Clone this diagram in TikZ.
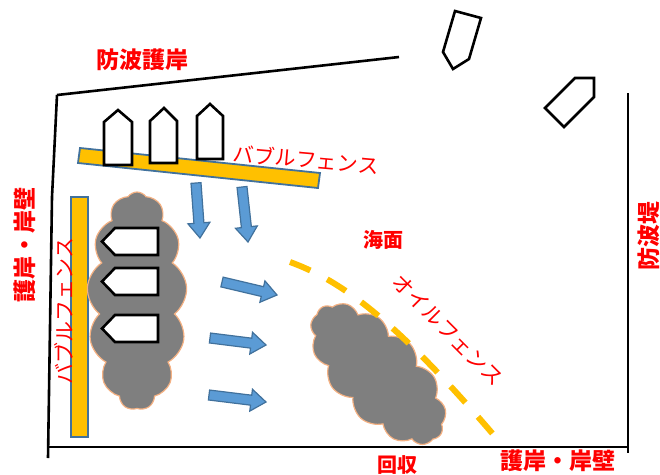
\documentclass[tikz,border=0pt]{standalone}
\usepackage{fontspec}
\newfontfamily\jp{Noto Sans CJK JP}
\usetikzlibrary{calc,shapes.symbols}
\tikzset{
  wall/.style={line width=2.6pt,black},
  ship/.style={line width=2.6pt,draw=black,fill=white,line join=miter},
  fence/.style={line width=1.8pt,draw=fenceline,fill=fenceyellow},
  oil/.style={cloud,cloud puffs=13,cloud puff arc=110,cloud ignores aspect,
    fill=oilgray,draw=oilline,line width=1.2pt,inner sep=0pt},
  flow/.style={fill=flowblue,draw=flowline,line width=1.2pt,line join=miter},
  label/.style={text=red,font=\jp\bfseries\fontsize{23}{23}\selectfont,inner sep=0pt},
  thinlabel/.style={text=red,font=\jp\fontsize{21}{21}\selectfont,inner sep=0pt}
}
\begin{document}
\begin{tikzpicture}[x=1pt,y=-1pt]
\definecolor{fenceyellow}{RGB}{255,192,0}
\definecolor{fenceline}{RGB}{65,113,156}
\definecolor{oilgray}{RGB}{127,127,127}
\definecolor{oilline}{RGB}{244,177,131}
\definecolor{flowblue}{RGB}{91,155,213}
\definecolor{flowline}{RGB}{65,113,156}
\useasboundingbox (0,0) rectangle (660,474);
\draw [wall] (57,95) -- (399,57);
\draw [wall] (57,95) -- (52,197) -- (48,458);
\draw [wall] (47,447) -- (628,447);
\draw [wall] (628,93) -- (628,453);
\draw [fence] (80,148) -- (320,173) -- (318,188) -- (78,163) -- cycle;
\draw [fence] (71,197) rectangle (88,437);
\node [oil,minimum width=100pt,minimum height=218pt] (cloudL) at (137,301) {};
\node [oil,minimum width=175pt,minimum height=88pt,rotate=-47] (cloudR) at (378,374) {};
\draw [line width=6pt,fenceyellow,dash pattern=on 22pt off 19pt]
  (290,262) .. controls (345,282) and (400,325) .. (498,440);
\draw [ship] (104,165) -- (104,122) -- (118,110) -- (132,122) -- (132,165) -- cycle;
\draw [ship] (150,163) -- (150,121) -- (164,108) -- (177,121) -- (177,163) -- cycle;
\draw [ship] (197,159) -- (197,116) -- (210,104) -- (223,116) -- (223,159) -- cycle;
\draw [ship] (158,228) -- (115,228) -- (102,241.5) -- (115,255) -- (158,255) -- cycle;
\draw [ship] (158,268) -- (115,268) -- (102,281.5) -- (115,295) -- (158,295) -- cycle;
\draw [ship] (158,315) -- (115,315) -- (102,328.5) -- (115,342) -- (158,342) -- cycle;
\draw [ship] (455,11) -- (481,18) -- (469,59) -- (453,69) -- (443,52) -- cycle;
\draw [ship] (575,78) -- (594,78) -- (594,97) -- (564,127) -- (545,108) -- cycle;
\foreach \tx/\ty/\hx/\hy in {196/183/200/238, 242/187/248/242, 222/282/277/295,
    210/338/266/345, 209/395/266/402}{
  \coordinate (tail) at (\tx,\ty);
  \coordinate (head) at (\hx,\hy);
  \coordinate (neck) at ($(head)!15pt!(tail)$);
  \draw [flow] ($(tail)!5pt!90:(head)$) -- ($(neck)!5pt!90:(head)$)
    -- ($(neck)!11pt!90:(head)$) -- (head) -- ($(neck)!11pt!-90:(head)$)
    -- ($(neck)!5pt!-90:(head)$) -- ($(tail)!5pt!-90:(head)$) -- cycle;
}
\node [label] (wallTop) at (142,60) {防波護岸};
\node [label,rotate=90] (wallLeft) at (25,245) {護岸・岸壁};
\node [label,rotate=90] (breakwater) at (649,236) {防波堤};
\node [label,font=\jp\bfseries\fontsize{20}{20}\selectfont] (sea) at (383,240) {海面};
\node [label,font=\jp\bfseries\fontsize{20}{20}\selectfont] (recover) at (397,465) {回収};
\node [label] (wallBottom) at (558,461) {護岸・岸壁};
\node [thinlabel,rotate=-5] (bubbleTop) at (306,159) {バブルフェンス};
\node [thinlabel,rotate=90] (bubbleLeft) at (64,311) {バブルフェンス};
\node [thinlabel,rotate=-45] (oilFence) at (448,330) {オイルフェンス};
\end{tikzpicture}
\end{document}
